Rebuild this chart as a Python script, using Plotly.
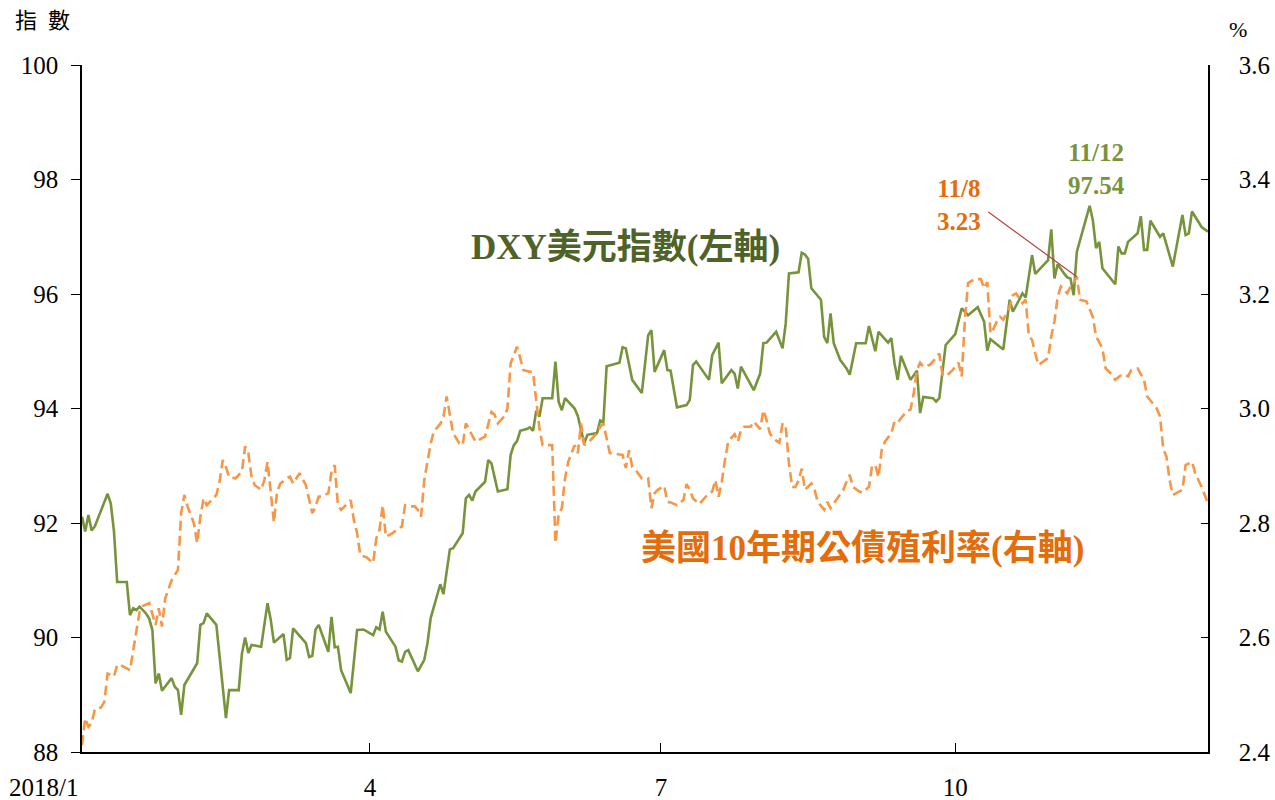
import pandas as pd
import plotly.graph_objects as go

YEAR_START = pd.Timestamp("2018-01-01")

# US Dollar Index (DXY): calendar day of 2018 (0 = 1 Jan) and index level
dxy_day = [
    0, 1, 2, 3, 4, 8, 9, 10, 11, 14, 15, 16, 17, 18, 20, 21, 22, 23, 24, 25, 28, 29, 30,
    31, 32, 36, 37, 38, 39, 42, 45, 46, 49, 50, 51, 52, 53, 56, 58,
    59, 60, 63, 64, 65, 66, 70, 71, 72, 73, 74, 77, 78, 79, 80, 81, 84, 86, 88,
    91, 92, 93, 94, 95, 98, 99, 100, 101, 102, 105, 107, 108, 109, 112, 113, 115, 116, 119,
    120, 121, 122, 123, 126, 127, 128, 130, 133, 134, 135, 136, 137, 139, 140, 141, 142, 143, 144, 147, 148, 149, 150,
    151, 154, 155, 156, 157, 158, 161, 162, 163, 164, 168, 169, 170, 172, 175, 177, 178, 179,
    182, 183, 184, 186, 189, 190, 191, 192, 196, 197, 199, 200, 203, 204, 205, 206, 210,
    212, 213, 214, 217, 219, 220, 221, 224, 225, 226, 227, 228, 231, 232, 233, 234, 235, 237, 239, 240, 242,
    245, 246, 248, 249, 252, 253, 254, 255, 256, 259, 261, 262, 263, 266, 267, 268, 270,
    273, 275, 277, 280, 282, 283, 284, 288, 290, 291, 294, 295, 297, 298, 302, 303,
    304, 305, 307, 308, 309, 310, 311, 315, 316, 317, 318, 319, 323, 324, 325, 326, 327, 330, 331, 332, 333,
    334, 337, 338, 341, 344, 345, 346, 347, 350, 352,
]
dxy_val = [
    92.11, 91.85, 92.14, 91.87, 91.94, 92.51, 92.34, 91.85, 90.97, 90.97, 90.39, 90.51, 90.48, 90.54, 90.42, 90.33, 90.13, 89.20, 89.37, 89.07, 89.29, 89.14, 89.08,
    88.65, 89.17, 89.55, 90.22, 90.25, 90.42, 90.22, 88.59, 89.08, 89.08, 89.72, 90.00, 89.73, 89.87, 89.84, 90.60,
    90.31, 89.91, 90.06, 89.61, 89.64, 90.16, 89.90, 89.66, 89.68, 90.14, 90.22, 89.75, 90.36, 89.83, 89.84, 89.43, 89.03, 90.13, 90.14,
    90.04, 90.18, 90.14, 90.45, 90.10, 89.84, 89.60, 89.58, 89.75, 89.78, 89.41, 89.61, 89.90, 90.34, 90.93, 90.76, 91.54, 91.56, 91.82,
    92.43, 92.49, 92.39, 92.55, 92.72, 93.10, 93.04, 92.55, 92.59, 93.19, 93.36, 93.43, 93.61, 93.64, 93.67, 93.61, 93.96, 93.86, 94.18, 94.18, 94.82, 94.12, 93.97,
    94.18, 94.00, 93.87, 93.60, 93.39, 93.54, 93.57, 93.79, 93.77, 94.74, 94.80, 95.07, 95.05, 94.50, 94.27, 95.28, 95.37, 94.64,
    95.02, 94.67, 94.66, 94.02, 94.06, 94.15, 94.76, 94.82, 94.50, 94.93, 95.15, 94.44, 94.67, 94.61, 94.35, 94.73, 94.32,
    94.61, 95.14, 95.15, 95.34, 95.05, 95.49, 96.36, 96.38, 96.72, 96.69, 96.61, 96.10, 95.90, 95.25, 95.14, 95.66, 95.14, 94.85, 94.70, 94.59, 95.14,
    95.14, 95.44, 95.00, 95.34, 95.15, 95.23, 94.79, 94.50, 94.92, 94.50, 94.66, 93.92, 94.20, 94.18, 94.12, 94.18, 95.11,
    95.30, 95.75, 95.63, 95.77, 95.52, 95.01, 95.21, 95.03, 95.90, 95.69, 96.01, 95.94, 96.68, 96.35, 96.59, 97.13,
    96.27, 96.52, 96.36, 96.29, 96.27, 95.98, 96.74, 97.54, 97.29, 96.80, 96.91, 96.45, 96.17, 96.83, 96.71, 96.71, 96.91, 97.06, 97.36, 96.77, 96.77,
    97.28, 97.00, 97.06, 96.48, 97.38, 97.03, 97.06, 97.44, 97.17, 97.09,
]

# US 10-year Treasury yield (%): calendar day of 2018 (0 = 1 Jan) and yield
ust_day = [
    0, 1, 2, 3, 4, 6, 7, 8, 10, 11, 12, 15, 18, 19, 21, 22, 23, 24, 25, 26, 28, 30,
    31, 32, 33, 35, 36, 37, 38, 39, 40, 42, 43, 44, 45, 46, 48, 50, 51, 52, 53, 54, 56, 57, 58,
    59, 60, 61, 62, 64, 65, 66, 68, 70, 72, 73, 74, 75, 77, 78, 79, 80, 81, 83, 84, 85, 86, 87, 89,
    91, 92, 93, 94, 95, 97, 99, 100, 101, 102, 104, 105, 106, 107, 109, 110, 112, 113, 114, 115, 116, 118, 119,
    120, 122, 123, 126, 128, 129, 130, 132, 133, 134, 135, 136, 137, 138, 141, 142, 143, 144, 147, 148, 149, 150,
    151, 152, 154, 155, 156, 157, 159, 161, 162, 163, 165, 169, 170, 171, 172, 173, 175, 177, 178, 179, 180,
    182, 183, 184, 186, 188, 189, 190, 191, 193, 195, 197, 198, 199, 200, 201, 202, 204, 205, 206, 207, 209, 210,
    212, 213, 214, 215, 216, 218, 219, 220, 221, 222, 223, 224, 225, 226, 228, 229, 230, 232, 233, 234, 235, 238, 239, 240, 241,
    243, 244, 246, 247, 248, 249, 250, 251, 253, 254, 255, 256, 258, 259, 260, 261, 262, 263, 265, 266, 268, 269, 270, 272,
    274, 275, 276, 277, 279, 281, 282, 283, 284, 285, 286, 287, 288, 289, 290, 291, 292, 294, 295, 296, 297, 298, 299, 302, 303,
    304, 305, 306, 308, 309, 310, 311, 312, 314, 316, 317, 319, 320, 322, 323, 325, 326, 327, 328, 330, 332, 333,
    336, 337, 338, 339, 340, 341, 344, 345, 347, 348, 350, 352,
]
ust_val = [
    2.412, 2.459, 2.444, 2.450, 2.475, 2.478, 2.488, 2.537, 2.532, 2.552, 2.552, 2.543, 2.645, 2.655, 2.660, 2.642, 2.622, 2.651, 2.619, 2.668, 2.700, 2.718,
    2.817, 2.849, 2.829, 2.799, 2.765, 2.811, 2.843, 2.831, 2.837, 2.849, 2.872, 2.910, 2.898, 2.880, 2.878, 2.890, 2.934, 2.922, 2.881, 2.866, 2.858, 2.875, 2.907,
    2.852, 2.801, 2.855, 2.869, 2.878, 2.881, 2.869, 2.887, 2.866, 2.817, 2.829, 2.846, 2.846, 2.852, 2.890, 2.901, 2.831, 2.823, 2.834, 2.840, 2.805, 2.782, 2.744, 2.740,
    2.730, 2.773, 2.788, 2.831, 2.776, 2.782, 2.791, 2.794, 2.831, 2.829, 2.829, 2.823, 2.811, 2.875, 2.939, 2.960, 2.973, 2.986, 3.021, 2.992, 2.957, 2.939, 2.936,
    2.974, 2.954, 2.942, 2.951, 2.994, 2.989, 2.974, 2.986, 3.000, 3.079, 3.093, 3.108, 3.088, 3.067, 3.063, 3.012, 2.965, 2.936, 2.936, 2.765, 2.815, 2.826,
    2.878, 2.907, 2.936, 2.922, 2.974, 2.936, 2.945, 2.957, 2.968, 2.974, 2.922, 2.919, 2.896, 2.927, 2.898, 2.893, 2.878, 2.878, 2.826, 2.852, 2.858,
    2.865, 2.837, 2.836, 2.831, 2.840, 2.868, 2.858, 2.843, 2.833, 2.846, 2.855, 2.875, 2.846, 2.872, 2.910, 2.942, 2.955, 2.942, 2.962, 2.968, 2.968, 2.977,
    2.964, 2.997, 2.980, 2.957, 2.948, 2.940, 2.974, 2.968, 2.904, 2.863, 2.863, 2.874, 2.895, 2.858, 2.869, 2.858, 2.837, 2.823, 2.837, 2.826, 2.834, 2.858, 2.872, 2.884, 2.863,
    2.855, 2.853, 2.863, 2.900, 2.901, 2.880, 2.928, 2.942, 2.957, 2.977, 2.975, 2.983, 2.996, 2.998, 3.026, 3.067, 3.080, 3.073, 3.076, 3.082, 3.096, 3.059, 3.056, 3.066,
    3.080, 3.056, 3.155, 3.219, 3.226, 3.226, 3.210, 3.221, 3.131, 3.140, 3.152, 3.160, 3.155, 3.166, 3.178, 3.198, 3.201, 3.184, 3.190, 3.126, 3.120, 3.096, 3.076, 3.088, 3.126,
    3.152, 3.195, 3.213, 3.201, 3.213, 3.219, 3.230, 3.190, 3.187, 3.160, 3.126, 3.105, 3.070, 3.059, 3.050, 3.059, 3.059, 3.056, 3.067, 3.070, 3.050, 3.021,
    3.000, 2.986, 2.930, 2.916, 2.875, 2.849, 2.858, 2.901, 2.907, 2.887, 2.863, 2.834,
]

# Axis ticks and captions
x_tick_dates = ["2018-04-01", "2018-07-01", "2018-10-01"]
x_tick_text = ["4", "7", "10"]
x_first_label = "2018/1"
x_range = ["2018-01-01", "2018-12-19"]
y_left_range = [88, 100]
y_right_range = [2.4, 3.6]
left_unit = "指\u2002數"
right_unit = "%"
dxy_name = "DXY美元指數(左軸)"
ust_name = "美國10年期公債殖利率(右軸)"

# Callout points
dxy_callout_date = "2018-11-12"
ust_callout_date = "2018-11-08"

GREEN = "#77933C"
GREEN_DARK = "#4F6228"
ORANGE = "#F79646"
ORANGE_TEXT = "#E46C0A"
LEADER = "#B5453F"
FONT = "Liberation Serif, Noto Sans CJK TC, serif"

dxy_dates = YEAR_START + pd.to_timedelta(dxy_day, unit="D")
ust_dates = YEAR_START + pd.to_timedelta(ust_day, unit="D")
dxy = pd.Series(dxy_val, index=dxy_dates)
ust = pd.Series(ust_val, index=ust_dates)

fig = go.Figure()
fig.add_trace(go.Scatter(
    x=dxy.index, y=dxy.values, mode="lines", name=dxy_name,
    line=dict(color=GREEN, width=2.6), yaxis="y",
))
fig.add_trace(go.Scatter(
    x=ust.index, y=ust.values, mode="lines", name=ust_name,
    line=dict(color=ORANGE, width=2.6, dash="10px,5px"), yaxis="y2",
))

# Series captions
fig.add_annotation(text=f"<b>{dxy_name}</b>", xref="paper", yref="paper",
                   x=0.344, y=0.734, xanchor="left", yanchor="middle", showarrow=False,
                   font=dict(family=FONT, size=35, color=GREEN_DARK))
fig.add_annotation(text=f"<b>{ust_name}</b>", xref="paper", yref="paper",
                   x=0.495, y=0.2955, xanchor="left", yanchor="middle", showarrow=False,
                   font=dict(family=FONT, size=35, color=ORANGE_TEXT))

# Callout labels for the highlighted points
d_pt = pd.Timestamp(dxy_callout_date)
u_pt = pd.Timestamp(ust_callout_date)
dxy_pt_val = dxy.loc[d_pt]
ust_pt_val = ust.loc[u_pt]
fig.add_annotation(text=f"<b>{d_pt.month}/{d_pt.day}<br>{dxy_pt_val:.2f}</b>",
                   xref="paper", yref="paper", x=0.9014, y=0.8486,
                   xanchor="center", yanchor="middle", showarrow=False,
                   font=dict(family=FONT, size=25, color=GREEN))
fig.add_annotation(text=f"<b>{u_pt.month}/{u_pt.day}<br>{ust_pt_val:.2f}</b>",
                   xref="paper", yref="paper", x=0.7785, y=0.7962,
                   xanchor="center", yanchor="middle", showarrow=False,
                   font=dict(family=FONT, size=25, color=ORANGE_TEXT))
# leader line from the yield label down to its point
fig.add_annotation(x=u_pt, y=ust_pt_val, xref="x", yref="y2",
                   ax=-90, ay=-66, text="",
                   showarrow=True, arrowhead=0, arrowwidth=1.2, arrowcolor=LEADER)

# First month label sits left of the axis origin
fig.add_annotation(text=x_first_label, xref="paper", yref="paper",
                   x=-0.034, y=-0.051, xanchor="center", yanchor="middle",
                   showarrow=False, font=dict(family=FONT, size=25, color="black"))
# Unit captions
fig.add_annotation(text=left_unit, xref="paper", yref="paper",
                   x=-0.0355, y=1.0655, xanchor="center", yanchor="middle",
                   showarrow=False, font=dict(family=FONT, size=22, color="black"))
fig.add_annotation(text=right_unit, xref="paper", yref="paper",
                   x=1.0266, y=1.051, xanchor="center", yanchor="middle",
                   showarrow=False, font=dict(family=FONT, size=22, color="black"))

axis_font = dict(family=FONT, size=25, color="black")
fig.update_layout(
    width=1275, height=800,
    margin=dict(l=82, r=67, t=65, b=48),
    paper_bgcolor="white", plot_bgcolor="white",
    showlegend=False,
    xaxis=dict(
        type="date", range=x_range, tickvals=x_tick_dates, ticktext=x_tick_text,
        ticks="inside", ticklen=9, tickwidth=1.2, tickcolor="black",
        showline=True, linecolor="black", linewidth=1.6, mirror=False,
        showgrid=False, zeroline=False, tickfont=axis_font, ticklabelstandoff=12,
        automargin=False,
    ),
    yaxis=dict(
        range=y_left_range, dtick=2, ticks="outside", ticklen=9, tickwidth=1.2,
        tickcolor="black", showline=True, linecolor="black", linewidth=1.6,
        showgrid=False, zeroline=False, tickfont=axis_font, ticklabelstandoff=8,
        automargin=False,
    ),
    yaxis2=dict(
        range=y_right_range, dtick=0.2, tickformat=".1f", overlaying="y", side="right",
        ticks="inside", ticklen=7, tickwidth=1.2, tickcolor="black",
        showline=True, linecolor="black", linewidth=1.6,
        showgrid=False, zeroline=False, tickfont=axis_font, ticklabelstandoff=24,
        automargin=False,
    ),
)

fig.write_html("out.html")
